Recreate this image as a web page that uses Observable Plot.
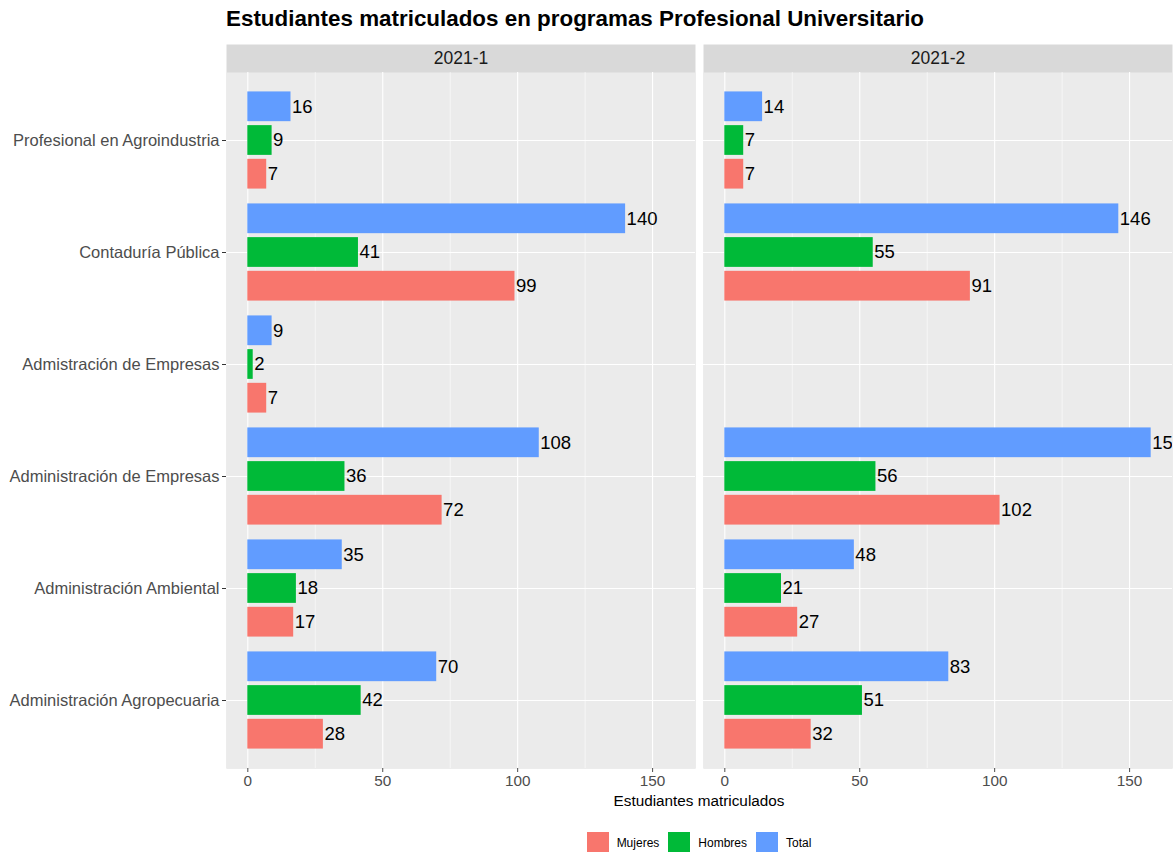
<!DOCTYPE html>
<html>
<head>
<meta charset="utf-8">
<script src="https://cdn.jsdelivr.net/npm/d3@7"></script>
<script src="https://cdn.jsdelivr.net/npm/@observablehq/plot@0.6"></script>
<style>
  html, body { margin: 0; padding: 0; background: #fff; }
  body { width: 1175px; height: 852px; position: relative; overflow: hidden; font-family: "Liberation Sans", Arial, sans-serif; }
  #title { position: absolute; left: 226px; top: 6px; font-size: 22.4px; font-weight: bold; color: #000; white-space: nowrap; }
  #chart { position: absolute; left: 0; top: 40px; }
  #xtitle { position: absolute; left: 226px; width: 946px; top: 792px; text-align: center; font-size: 15.3px; color: #000; }
  #legend { position: absolute; left: 226px; width: 946px; top: 832px; display: flex; justify-content: center; align-items: center; font-size: 12px; color: #000; gap: 9px; }
  .key { width: 22px; height: 22px; display: inline-block; margin-right: 8px; }
  .item { display: flex; align-items: center; }
</style>
</head>
<body>
<div id="title">Estudiantes matriculados en programas Profesional Universitario</div>
<div id="chart"></div>
<div id="xtitle">Estudiantes matriculados</div>
<div id="legend"></div>
<script>
// ---- data ----
const periods = ["2021-1", "2021-2"];
const programs = [
  "Profesional en Agroindustria",
  "Contaduría Pública",
  "Admistración de Empresas",
  "Administración de Empresas",
  "Administración Ambiental",
  "Administración Agropecuaria"
];
const groups = ["Mujeres", "Hombres", "Total"];
const groupColors = ["#F8766D", "#00BA38", "#619CFF"];
// values per program (same order as programs); null = no data
const mujeres1 = [7, 99, 7, 72, 17, 28];
const hombres1 = [9, 41, 2, 36, 18, 42];
const total1   = [16, 140, 9, 108, 35, 70];
const mujeres2 = [7, 91, null, 102, 27, 32];
const hombres2 = [7, 55, null, 56, 21, 51];
const total2   = [14, 146, null, 158, 48, 83];
const xTicks = [0, 50, 100, 150];
const xMinor = [25, 75, 125];

// ---- build table ----
const series = {
  "2021-1": {Mujeres: mujeres1, Hombres: hombres1, Total: total1},
  "2021-2": {Mujeres: mujeres2, Hombres: hombres2, Total: total2}
};
const rows = [];
for (const p of periods) for (const g of groups) programs.forEach((prog, i) => {
  const v = series[p][g][i];
  if (v != null) rows.push({period: p, group: g, program: prog, value: v});
});

const barH = 30, step = 33.7;
const bandStep = 696 / 6.2;
const inset = (bandStep - barH) / 2;
const offsets = {Total: -step, Hombres: 0, Mujeres: step};
const colorOf = Object.fromEntries(groups.map((g, i) => [g, groupColors[i]]));

const marks = [
  Plot.frame({fill: "#D9D9D9", insetTop: -28}),
  Plot.frame({fill: "#EBEBEB"}),
  Plot.ruleX(xMinor, {stroke: "#fff", strokeWidth: 0.55}),
  Plot.ruleX(xTicks, {stroke: "#fff", strokeWidth: 1.1}),
  Plot.ruleY(programs, {y: d => d, stroke: "#fff", strokeWidth: 1.1}),
  Plot.text(periods, {fx: d => d, text: d => d, frameAnchor: "top", dy: -14, fontSize: 17.5, fill: "#1A1A1A", lineAnchor: "middle"})
];
for (const g of groups) {
  const data = rows.filter(r => r.group === g);
  marks.push(Plot.barX(data, {
    fx: "period", y: "program", x1: 0, x2: "value",
    fill: colorOf[g], insetTop: inset, insetBottom: inset, dy: offsets[g]
  }));
  marks.push(Plot.text(data, {
    fx: "period", y: "program", x: "value", text: d => String(d.value),
    textAnchor: "start", dx: 1, dy: offsets[g], fontSize: 18.5, fill: "#000",
    lineAnchor: "middle", clip: true
  }));
}
marks.push(Plot.axisY({tickSize: 4, tickPadding: 3, fontSize: 16.5, color: "#4D4D4D", label: null, stroke: "#333"}));
marks.push(Plot.axisX({ticks: xTicks, tickSize: 4, tickPadding: 3, fontSize: 15.3, color: "#4D4D4D", label: null}));

const chart = Plot.plot({
  width: 1175,
  height: 765,
  marginLeft: 226,
  marginRight: 3,
  marginTop: 32,
  marginBottom: 37,
  style: {fontFamily: "'Liberation Sans', Arial, sans-serif", background: "transparent", overflow: "visible"},
  fx: {domain: periods, paddingInner: 0.017, paddingOuter: 0, axis: null, label: null},
  y: {domain: programs, paddingInner: 0, paddingOuter: 0.1, label: null},
  x: {domain: [-7.9, 165.9], label: null},
  marks
});
document.getElementById("chart").appendChild(chart);

const legend = document.getElementById("legend");
groups.forEach((g, i) => {
  const item = document.createElement("div");
  item.className = "item";
  item.innerHTML = `<span class="key" style="background:${groupColors[i]}"></span><span>${g}</span>`;
  legend.appendChild(item);
});
</script>
</body>
</html>
